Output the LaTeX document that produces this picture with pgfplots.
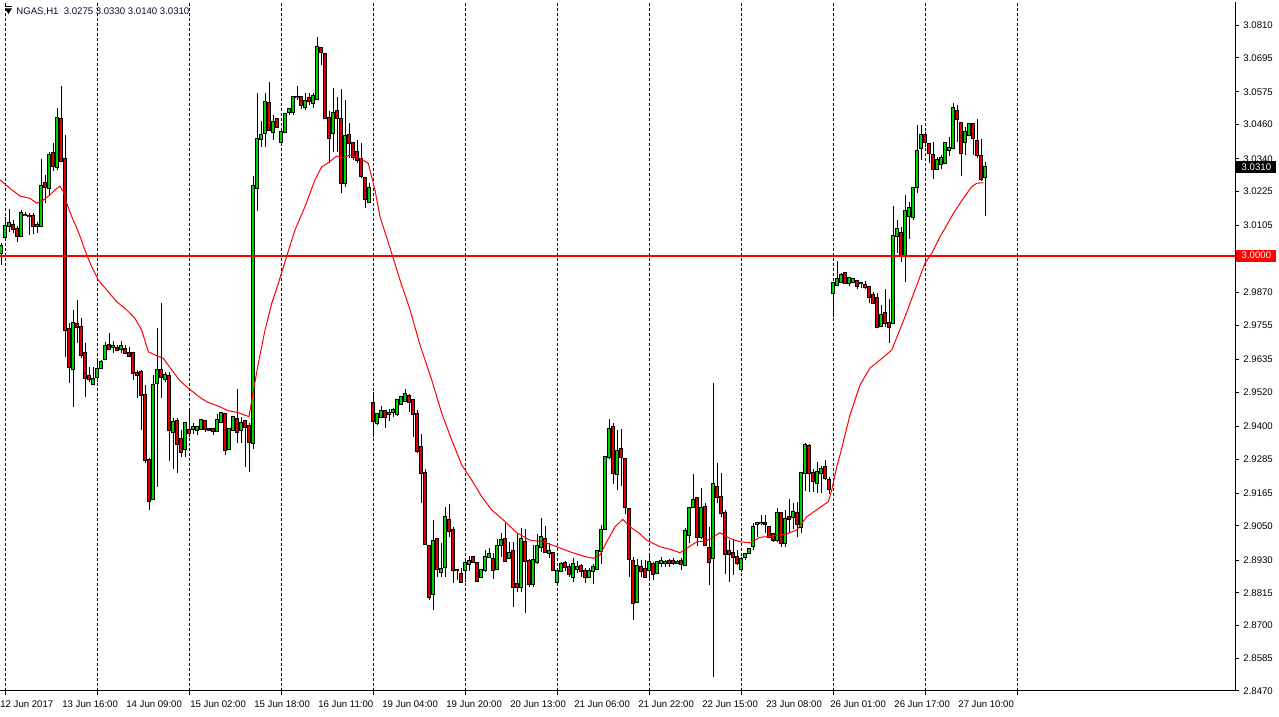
\documentclass[border=0pt]{standalone}
\usepackage{fontspec}
\setmainfont{Liberation Sans}
\usepackage{pgfplots}
\usepackage{pgfplotstable}
\pgfplotsset{compat=1.18}

\definecolor{bull}{RGB}{0,210,0}
\definecolor{bear}{RGB}{225,0,0}
\definecolor{hdr}{RGB}{10,10,60}

% hourly NGAS candles, x = bar number (0 = 13 Jun 01:00)
\pgfplotstableread{
i o h l c
-1 3.0010 3.0044 2.9967 3.0034
0 3.0066 3.0137 3.0057 3.0104
1 3.0105 3.0163 3.0084 3.0113
2 3.0107 3.0125 3.0080 3.0093
3 3.0092 3.0104 3.0049 3.0070
4 3.0070 3.0160 3.0068 3.0148
5 3.0143 3.0154 3.0139 3.0142
6 3.0140 3.0151 3.0072 3.0139
7 3.0139 3.0148 3.0076 3.0105
8 3.0104 3.0119 3.0080 3.0106
9 3.0105 3.0338 3.0104 3.0244
10 3.0254 3.0283 3.0184 3.0242
11 3.0236 3.0365 3.0213 3.0353
12 3.0359 3.0397 3.0298 3.0316
13 3.0312 3.0517 3.0301 3.0482
14 3.0479 3.0596 3.0330 3.0333
15 3.0338 3.0424 2.9645 2.9738
16 2.9741 2.9762 2.9551 2.9609
17 2.9600 2.9809 2.9469 2.9762
18 2.9758 2.9844 2.9692 2.9750
19 2.9748 2.9779 2.9639 2.9651
20 2.9659 2.9692 2.9502 2.9571
21 2.9577 2.9609 2.9557 2.9565
22 2.9549 2.9609 2.9548 2.9565
23 2.9572 2.9633 2.9557 2.9600
24 2.9604 2.9633 2.9600 2.9625
25 2.9635 2.9697 2.9634 2.9683
26 2.9686 2.9729 2.9668 2.9672
27 2.9680 2.9701 2.9659 2.9681
28 2.9676 2.9686 2.9666 2.9668
29 2.9673 2.9701 2.9659 2.9682
30 2.9671 2.9686 2.9654 2.9659
31 2.9657 2.9680 2.9645 2.9648
32 2.9659 2.9662 2.9563 2.9588
33 2.9588 2.9598 2.9498 2.9579
34 2.9591 2.9598 2.9387 2.9509
35 2.9509 2.9545 2.9270 2.9282
36 2.9282 2.9288 2.9106 2.9139
37 2.9143 2.9580 2.9142 2.9545
38 2.9553 2.9747 2.9188 2.9598
39 2.9598 2.9834 2.9498 2.9574
40 2.9565 2.9591 2.9556 2.9580
41 2.9577 2.9592 2.9279 2.9387
42 2.9379 2.9428 2.9249 2.9414
43 2.9420 2.9428 2.9237 2.9339
44 2.9354 2.9387 2.9293 2.9309
45 2.9319 2.9412 2.9293 2.9411
46 2.9387 2.9457 2.9363 2.9377
47 2.9389 2.9411 2.9373 2.9396
48 2.9387 2.9399 2.9369 2.9396
49 2.9389 2.9427 2.9387 2.9422
50 2.9419 2.9422 2.9381 2.9389
51 2.9389 2.9390 2.9387 2.9388
52 2.9389 2.9390 2.9370 2.9382
53 2.9384 2.9443 2.9381 2.9422
54 2.9416 2.9448 2.9411 2.9446
55 2.9443 2.9445 2.9299 2.9317
56 2.9319 2.9390 2.9317 2.9389
57 2.9387 2.9434 2.9386 2.9432
58 2.9425 2.9532 2.9340 2.9381
59 2.9387 2.9434 2.9340 2.9411
60 2.9418 2.9420 2.9258 2.9396
61 2.9401 2.9411 2.9240 2.9346
62 2.9340 3.0280 2.9319 3.0244
63 3.0236 3.0572 3.0158 3.0409
64 3.0411 3.0474 3.0380 3.0423
65 3.0430 3.0572 3.0380 3.0540
66 3.0537 3.0609 3.0439 3.0441
67 3.0435 3.0494 3.0406 3.0469
68 3.0479 3.0482 3.0451 3.0453
69 3.0400 3.0435 3.0397 3.0434
70 3.0435 3.0500 3.0434 3.0496
71 3.0504 3.0517 3.0494 3.0514
72 3.0505 3.0558 3.0494 3.0556
73 3.0557 3.0596 3.0547 3.0558
74 3.0556 3.0561 3.0514 3.0528
75 3.0523 3.0570 3.0511 3.0544
76 3.0553 3.0570 3.0529 3.0542
77 3.0537 3.0570 3.0517 3.0561
78 3.0551 3.0767 3.0550 3.0732
79 3.0728 3.0734 3.0670 3.0716
80 3.0708 3.0710 3.0483 3.0484
81 3.0482 3.0509 3.0326 3.0412
82 3.0430 3.0588 3.0365 3.0500
83 3.0508 3.0558 3.0365 3.0482
84 3.0479 3.0584 3.0221 3.0254
85 3.0256 3.0547 3.0242 3.0420
86 3.0423 3.0467 3.0342 3.0397
87 3.0394 3.0396 3.0336 3.0347
88 3.0365 3.0406 3.0324 3.0336
89 3.0338 3.0394 3.0271 3.0280
90 3.0271 3.0277 3.0166 3.0198
91 3.0189 3.0254 3.0188 3.0236
92 2.9481 2.9522 2.9363 2.9420
93 2.9411 2.9446 2.9405 2.9443
94 2.9434 2.9471 2.9433 2.9454
95 2.9454 2.9455 2.9395 2.9434
96 2.9445 2.9460 2.9420 2.9446
97 2.9450 2.9463 2.9434 2.9456
98 2.9442 2.9495 2.9436 2.9492
99 2.9478 2.9506 2.9475 2.9502
100 2.9490 2.9530 2.9489 2.9512
101 2.9506 2.9514 2.9451 2.9486
102 2.9492 2.9495 2.9363 2.9442
103 2.9443 2.9457 2.9307 2.9314
104 2.9326 2.9373 2.9129 2.9235
105 2.9237 2.9249 2.8983 2.8985
106 2.8979 2.8980 2.8790 2.8801
107 2.8811 2.9071 2.8754 2.8998
108 2.9003 2.9004 2.8869 2.8897
109 2.8889 2.8989 2.8869 2.8897
110 2.8907 2.9117 2.8871 2.9080
111 2.9071 2.9127 2.9012 2.9033
112 2.9036 2.9047 2.8848 2.8895
113 2.8896 2.8897 2.8860 2.8895
114 2.8881 2.8901 2.8853 2.8854
115 2.8895 2.8928 2.8854 2.8919
116 2.8915 2.8944 2.8893 2.8927
117 2.8940 2.8944 2.8921 2.8924
118 2.8919 2.8921 2.8854 2.8857
119 2.8869 2.8897 2.8868 2.8895
120 2.8895 2.8965 2.8889 2.8942
121 2.8940 2.8971 2.8936 2.8951
122 2.8933 2.8954 2.8862 2.8894
123 2.8897 2.9003 2.8896 2.8979
124 2.8983 2.9026 2.8940 2.9000
125 2.9003 2.9059 2.8927 2.8928
126 2.8938 2.8994 2.8933 2.8954
127 2.8963 2.8994 2.8766 2.8834
128 2.8846 2.9026 2.8819 2.8836
129 2.8836 2.9042 2.8819 2.9003
130 2.8994 2.9038 2.8743 2.8928
131 2.8928 2.8933 2.8836 2.8846
132 2.8846 2.8983 2.8836 2.8930
133 2.8924 2.9022 2.8916 2.8979
134 2.8975 2.9077 2.8959 2.9010
135 2.9003 2.9050 2.8958 2.8959
136 2.8954 2.8991 2.8936 2.8962
137 2.8954 2.8959 2.8894 2.8895
138 2.8854 2.8891 2.8853 2.8890
139 2.8893 2.8924 2.8889 2.8916
140 2.8919 2.8928 2.8893 2.8907
141 2.8907 2.8916 2.8871 2.8880
142 2.8869 2.8936 2.8854 2.8916
143 2.8897 2.8928 2.8883 2.8907
144 2.8909 2.8916 2.8871 2.8893
145 2.8893 2.8901 2.8848 2.8869
146 2.8869 2.8901 2.8868 2.8893
147 2.8893 2.8916 2.8846 2.8905
148 2.8897 2.8965 2.8896 2.8962
149 2.8963 2.9053 2.8916 2.9036
150 2.9038 2.9293 2.9037 2.9291
151 2.9293 2.9425 2.9284 2.9389
152 2.9396 2.9411 2.9197 2.9235
153 2.9232 2.9387 2.9176 2.9314
154 2.9319 2.9389 2.9190 2.9291
155 2.9284 2.9285 2.9092 2.9115
156 2.9108 2.9109 2.8869 2.8933
157 2.8928 2.8942 2.8719 2.8778
158 2.8784 2.8933 2.8783 2.8908
159 2.8905 2.8930 2.8869 2.8893
160 2.8897 2.8930 2.8868 2.8869
161 2.8895 2.8954 2.8860 2.8924
162 2.8916 2.8924 2.8860 2.8881
163 2.8883 2.8925 2.8881 2.8924
164 2.8919 2.8940 2.8907 2.8927
165 2.8921 2.8930 2.8907 2.8922
166 2.8927 2.8934 2.8907 2.8919
167 2.8927 2.8936 2.8913 2.8919
168 2.8921 2.8930 2.8916 2.8922
169 2.8927 2.8936 2.8895 2.8916
170 2.8913 2.9042 2.8909 2.9032
171 2.9018 2.9113 2.8989 2.9112
172 2.9117 2.9232 2.9115 2.9141
173 2.9147 2.9150 2.8979 2.9010
174 2.9012 2.9182 2.9003 2.9112
175 2.9115 2.9129 2.8982 2.8983
176 2.8971 2.9047 2.8842 2.8924
177 2.8936 2.9551 2.8518 2.9196
178 2.9186 2.9270 2.9129 2.9150
179 2.9153 2.9235 2.9082 2.9094
180 2.9094 2.9106 2.8881 2.8951
181 2.8962 2.9000 2.8854 2.8951
182 2.8954 2.9003 2.8878 2.8940
183 2.8942 2.8965 2.8913 2.8919
184 2.8897 2.8942 2.8889 2.8933
185 2.8942 2.8956 2.8930 2.8951
186 2.8954 2.8971 2.8951 2.8968
187 2.8979 2.9061 2.8965 2.9045
188 2.9058 2.9065 2.9012 2.9059
189 2.9060 2.9088 2.9053 2.9061
190 2.9060 2.9088 2.9026 2.9058
191 2.9047 2.9050 2.9010 2.9012
192 2.9022 2.9024 2.8994 2.9000
193 2.9000 2.9112 2.8994 2.9094
194 2.9096 2.9100 2.8977 2.8989
195 2.8989 2.9106 2.8975 2.9073
196 2.9082 2.9143 2.9024 2.9073
197 2.9082 2.9129 2.9038 2.9100
198 2.9094 2.9135 2.9010 2.9057
199 2.9045 2.9238 2.9024 2.9237
200 2.9237 2.9342 2.9174 2.9334
201 2.9331 2.9338 2.9170 2.9237
202 2.9237 2.9249 2.9170 2.9209
203 2.9202 2.9276 2.9164 2.9239
204 2.9235 2.9260 2.9164 2.9249
205 2.9256 2.9282 2.9211 2.9217
206 2.9211 2.9223 2.9162 2.9179
207 2.9867 2.9906 2.9785 2.9905
208 2.9897 2.9982 2.9893 2.9917
209 2.9908 2.9940 2.9902 2.9932
210 2.9938 2.9940 2.9900 2.9905
211 2.9902 2.9923 2.9893 2.9920
212 2.9908 2.9920 2.9905 2.9917
213 2.9911 2.9914 2.9881 2.9893
214 2.9905 2.9908 2.9885 2.9904
215 2.9897 2.9912 2.9881 2.9891
216 2.9891 2.9893 2.9832 2.9856
217 2.9861 2.9873 2.9832 2.9834
218 2.9850 2.9870 2.9749 2.9750
219 2.9752 2.9826 2.9750 2.9791
220 2.9797 2.9881 2.9748 2.9764
221 2.9764 2.9846 2.9694 2.9750
222 2.9762 3.0174 2.9759 3.0069
223 3.0069 3.0125 3.0010 3.0092
224 3.0078 3.0099 2.9978 2.9998
225 2.9998 3.0213 2.9908 3.0158
226 3.0139 3.0189 3.0057 3.0166
227 3.0137 3.0237 3.0125 3.0236
228 3.0242 3.0459 3.0221 3.0367
229 3.0377 3.0459 3.0336 3.0424
230 3.0424 3.0435 3.0383 3.0400
231 3.0392 3.0397 3.0326 3.0359
232 3.0353 3.0400 3.0268 3.0303
233 3.0303 3.0347 3.0300 3.0335
234 3.0322 3.0353 3.0303 3.0342
235 3.0326 3.0400 3.0324 3.0394
236 3.0371 3.0418 3.0350 3.0377
237 3.0377 3.0537 3.0376 3.0517
238 3.0509 3.0529 3.0400 3.0479
239 3.0467 3.0468 3.0280 3.0361
240 3.0400 3.0453 3.0353 3.0435
241 3.0424 3.0467 3.0420 3.0462
242 3.0462 3.0465 3.0353 3.0412
243 3.0404 3.0479 3.0342 3.0353
244 3.0350 3.0409 3.0263 3.0268
245 3.0275 3.0330 3.0140 3.0310
}\ohlc

% moving average (red line)
\pgfplotstableread{
i m
-1.25 3.0266
1.25 3.0236
3.75 3.0209
6.25 3.0201
7.93 3.0184
9.58 3.0195
11.25 3.0213
12.93 3.0236
13.75 3.0244
14.58 3.0224
15.43 3.0184
16.68 3.0137
18.33 3.0084
20.43 3.0002
21.68 2.9961
23.33 2.9914
25.43 2.9879
27.93 2.9838
30.43 2.9809
32.5 2.9779
34.18 2.9738
35.83 2.9662
37.5 2.9651
39.58 2.9639
41.68 2.9598
43.75 2.9560
45.83 2.9534
48.33 2.9506
50.43 2.9486
53.33 2.9471
55.83 2.9455
58.33 2.9448
61 2.9434
61.83 2.9504
63.33 2.9621
65 2.9738
66.68 2.9832
68.33 2.9902
70.43 2.9998
72.5 3.0090
75 3.0172
77.5 3.0266
79.18 3.0312
80.83 3.0326
82.93 3.0350
84.18 3.0342
86.25 3.0353
88.33 3.0345
90.83 3.0324
92.5 3.0230
93.75 3.0137
96.25 3.0027
98.75 2.9914
101.25 2.9810
103.75 2.9686
106.68 2.9563
109.18 2.9446
111.68 2.9352
114.18 2.9264
116.68 2.9211
119.18 2.9153
121.68 2.9106
124.58 2.9071
127.93 2.9026
131.25 2.9000
134.58 2.8994
137.93 2.8977
141.25 2.8959
144.58 2.8944
147.08 2.8936
148.75 2.8948
150.43 2.8994
152.5 2.9047
154.43 2.9073
156.25 2.9047
158.75 2.9022
160.43 2.9000
163.75 2.8977
166.25 2.8968
168.75 2.8956
171.25 2.8979
172.93 2.8994
175.43 2.8998
177.08 2.9012
178.75 2.9026
181.25 2.9006
183.75 2.8994
186.25 2.8991
188.75 2.9010
192.08 2.9015
195.43 2.9022
197.93 2.9036
200.43 2.9082
203.75 2.9115
205.83 2.9135
206.68 2.9176
207.93 2.9258
208.75 2.9299
211.25 2.9440
213.75 2.9545
216.25 2.9605
218.75 2.9633
221.68 2.9668
225 2.9785
227.5 2.9879
230 2.9973
231.68 3.0008
233.75 3.0066
235 3.0096
237.08 3.0148
239.58 3.0201
241.68 3.0242
242.93 3.0254
244.58 3.0256
}\ma

\begin{document}
\begin{tikzpicture}
\fill[white] (0,-13pt) rectangle (639.5pt,345.5pt);
\begin{axis}[
    at={(0,0)}, anchor=south west,
    scale only axis, width=617.5pt, height=344.5pt,
    xmin=-1.25, xmax=307.5,
    ymin=2.8470, ymax=3.0891,
    axis x line*=bottom, axis y line*=right,
    axis line style={-, black, line width=0.5pt},
    tick style={black, line width=0.5pt},
    major tick length=2pt, tick align=outside,
    xtick={0,23,...,253}, xticklabels={},
    xmajorgrids,
    major grid style={black, line width=0.5pt, dash pattern=on 1.5pt off 1pt},
    extra x ticks={-0.5,15,31,47,63,79,95,111,127,143,159,175,191,207,223,239},
    extra x tick labels={12 Jun 2017,13 Jun 16:00,14 Jun 09:00,15 Jun 02:00,15 Jun 18:00,16 Jun 11:00,19 Jun 04:00,19 Jun 20:00,20 Jun 13:00,21 Jun 06:00,21 Jun 22:00,22 Jun 15:00,23 Jun 08:00,26 Jun 01:00,26 Jun 17:00,27 Jun 10:00},
    extra x tick style={grid=none, major tick length=0pt,
        xticklabel style={anchor=north west, inner sep=0pt, xshift=-1.5pt, yshift=-4.5pt}},
    ytick={3.0810,3.0695,3.0575,3.0460,3.0340,3.0225,3.0105,2.9990,2.9870,2.9755,2.9635,2.9520,2.9400,2.9285,2.9165,2.9050,2.8930,2.8815,2.8700,2.8585,2.8470},
    yticklabels={3.0810,3.0695,3.0575,3.0460,3.0340,3.0225,3.0105,2.9990,2.9870,2.9755,2.9635,2.9520,2.9400,2.9285,2.9165,2.9050,2.8930,2.8815,2.8700,2.8585,2.8470},
    yticklabel style={anchor=west, inner sep=0pt, xshift=2pt},
    ticklabel style={font=\fontsize{4.8}{5.5}\selectfont, text=black},
]
% wicks
\addplot[draw=none, mark=none, forget plot,
    error bars/.cd, y dir=plus, y explicit, error mark=none,
    error bar style={draw=black, line width=0.5pt}]
    table[x=i, y=l, y error expr=\thisrow{h}-\thisrow{l}] {\ohlc};
% body outlines
\addplot[draw=none, mark=none, forget plot,
    error bars/.cd, y dir=plus, y explicit, error mark=none,
    error bar style={draw=black, line width=1.6pt, shorten <=-0.5pt, shorten >=-0.5pt}]
    table[x=i, y=o, y error expr=\thisrow{c}-\thisrow{o}] {\ohlc};
% bull bodies
\addplot[draw=none, mark=none, forget plot,
    restrict expr to domain={\thisrow{c}-\thisrow{o}}{0:1},
    error bars/.cd, y dir=plus, y explicit, error mark=none,
    error bar style={draw=bull, line width=0.6pt}]
    table[x=i, y=o, y error expr=\thisrow{c}-\thisrow{o}] {\ohlc};
% bear bodies
\addplot[draw=none, mark=none, forget plot,
    restrict expr to domain={\thisrow{o}-\thisrow{c}}{0:1},
    error bars/.cd, y dir=plus, y explicit, error mark=none,
    error bar style={draw=bear, line width=0.6pt}]
    table[x=i, y=o, y error expr=\thisrow{c}-\thisrow{o}] {\ohlc};
% moving average
\addplot[red, line width=0.5pt, mark=none] table[x=i, y=m] {\ma};
% 3.0000 level
\draw[red, line width=1pt] (axis cs:-1.25,3.0) -- (axis cs:307.5,3.0);
\coordinate (lvl) at (axis cs:307.5,3.0);
\coordinate (bid) at (axis cs:307.5,3.0310);
\end{axis}
\node[fill=red, text=white, inner sep=0pt, anchor=west, minimum height=6pt, minimum width=20pt,
      font=\fontsize{4.8}{5.5}\selectfont] at ([xshift=0.5pt]lvl) {3.0000};
\node[fill=black, text=white, inner sep=0pt, anchor=west, minimum height=6pt, minimum width=20pt,
      font=\fontsize{4.8}{5.5}\selectfont] at ([xshift=0.5pt]bid) {3.0310};
% header
\fill[black] (2.5pt,341.3pt) -- (6pt,341.3pt) -- (4.25pt,338.5pt) -- cycle;
\draw[black, line width=0.4pt] (2.5pt,342.3pt) -- (6pt,342.3pt);
\node[anchor=base west, inner sep=0pt, text=hdr, font=\fontsize{4.8}{5.5}\selectfont]
    at (8pt,338.3pt) {NGAS,H1\ \ 3.0275 3.0330 3.0140 3.0310};
\pgfresetboundingbox
\path (0,-13pt) rectangle (639.5pt,345.5pt);
\end{tikzpicture}
\end{document}
